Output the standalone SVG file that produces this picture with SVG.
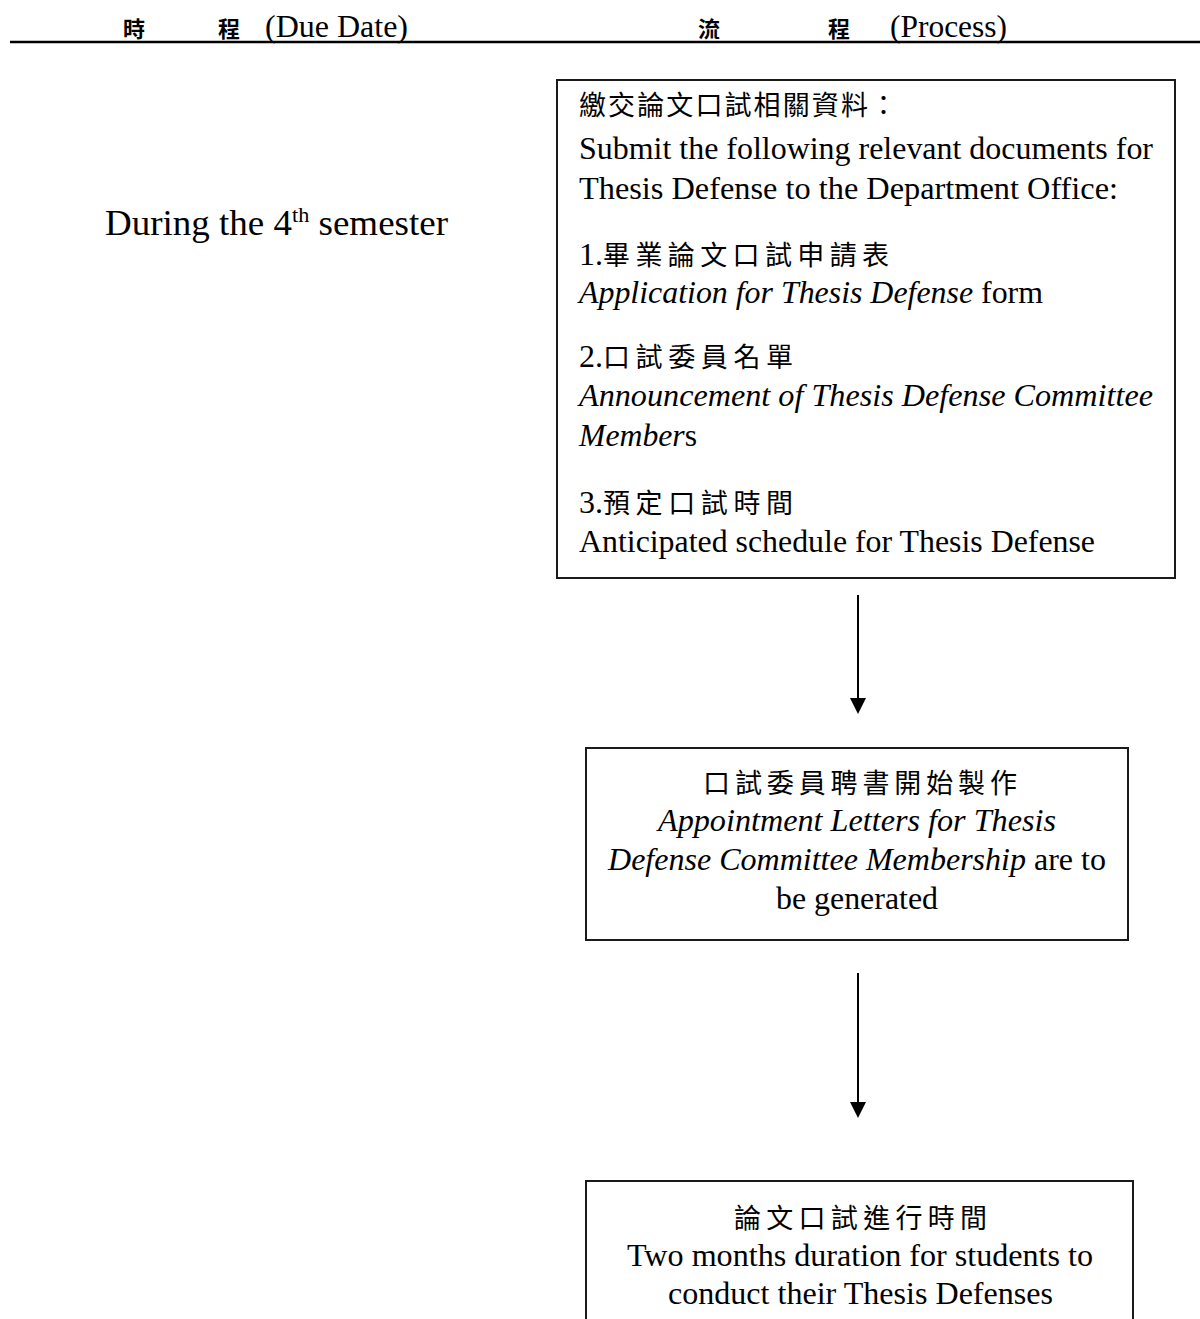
<svg xmlns="http://www.w3.org/2000/svg" width="1200" height="1319" viewBox="0 0 1200 1319">
<defs>
<style>
.bg{fill:#ffffff}
.box{fill:#ffffff;stroke:#1a1a1a;stroke-width:2}
.t{font-family:"Liberation Serif","Noto Sans CJK TC",serif;font-size:32px;fill:#000}
.cjk{font-family:"Noto Sans CJK TC","Liberation Serif",serif;font-size:27px;fill:#000}
.hdr{font-family:"Liberation Serif","Noto Sans CJK TC",serif;font-size:32px;fill:#000}
.hcjk{font-family:"Noto Sans CJK TC",serif;font-size:22px;font-weight:bold;fill:#000}
.i{font-style:italic}
.conn{stroke:#000;stroke-width:2;fill:none}
.head{fill:#000}
</style>
</defs>
<rect class="bg" x="0" y="0" width="1200" height="1319"/>

<g id="header">
<text class="hcjk" x="123" y="37">時</text>
<text class="hcjk" x="218" y="37">程</text>
<text class="hdr" x="265" y="37" textLength="143" lengthAdjust="spacingAndGlyphs">(Due Date)</text>
<text class="hcjk" x="698" y="37">流</text>
<text class="hcjk" x="828" y="37">程</text>
<text class="hdr" x="890" y="37" textLength="117" lengthAdjust="spacingAndGlyphs">(Process)</text>
<line x1="10" y1="42" x2="1200" y2="42" stroke="#000" stroke-width="2.5"/>
</g>

<g id="due-date">
<text class="t" x="105" y="235" style="font-size:35px" textLength="343" lengthAdjust="spacingAndGlyphs">During the 4<tspan style="font-size:21px" dy="-13">th</tspan><tspan dy="13"> semester</tspan></text>
</g>

<g id="node-submit">
<rect class="box" x="557" y="80" width="618" height="498"/>
<text class="cjk" x="579" y="115" textLength="318" lengthAdjust="spacing">繳交論文口試相關資料：</text>
<text class="t" x="579" y="159" textLength="574" lengthAdjust="spacingAndGlyphs">Submit the following relevant documents for</text>
<text class="t" x="579" y="199" textLength="539" lengthAdjust="spacingAndGlyphs">Thesis Defense to the Department Office:</text>
<text class="t" x="579" y="265">1.</text>
<text class="cjk" x="603" y="265" textLength="286" lengthAdjust="spacing">畢業論文口試申請表</text>
<text class="t" x="579" y="303" textLength="464" lengthAdjust="spacingAndGlyphs"><tspan class="i">Application for Thesis Defense</tspan> form</text>
<text class="t" x="579" y="367">2.</text>
<text class="cjk" x="603" y="367" textLength="190" lengthAdjust="spacing">口試委員名單</text>
<text class="t" x="579" y="406" textLength="574" lengthAdjust="spacingAndGlyphs"><tspan class="i">Announcement of Thesis Defense Committee</tspan></text>
<text class="t" x="579" y="446" textLength="118" lengthAdjust="spacingAndGlyphs"><tspan class="i">Member</tspan>s</text>
<text class="t" x="579" y="513">3.</text>
<text class="cjk" x="603" y="513" textLength="190" lengthAdjust="spacing">預定口試時間</text>
<text class="t" x="579" y="552" textLength="516" lengthAdjust="spacingAndGlyphs">Anticipated schedule for Thesis Defense</text>
</g>

<g id="node-letters">
<rect class="box" x="586" y="748" width="542" height="192"/>
<text class="cjk" x="703" y="793" textLength="314" lengthAdjust="spacing">口試委員聘書開始製作</text>
<text class="t i" x="658" y="831" textLength="398" lengthAdjust="spacingAndGlyphs">Appointment Letters for Thesis</text>
<text class="t" x="608" y="870" textLength="498" lengthAdjust="spacingAndGlyphs"><tspan class="i">Defense Committee Membership</tspan> are to</text>
<text class="t" x="776" y="909" textLength="162" lengthAdjust="spacingAndGlyphs">be generated</text>
</g>

<g id="node-defense">
<rect class="box" x="586" y="1181" width="547" height="160"/>
<text class="cjk" x="734" y="1228" textLength="253" lengthAdjust="spacing">論文口試進行時間</text>
<text class="t" x="627" y="1266" textLength="466" lengthAdjust="spacingAndGlyphs">Two months duration for students to</text>
<text class="t" x="668" y="1304" textLength="385" lengthAdjust="spacingAndGlyphs">conduct their Thesis Defenses</text>
</g>

<g id="connectors">
<line class="conn" x1="858" y1="595" x2="858" y2="700"/>
<polygon class="head" points="850,698 866,698 858,714"/>
<line class="conn" x1="858" y1="973" x2="858" y2="1104"/>
<polygon class="head" points="850,1102 866,1102 858,1118"/>
</g>
</svg>
